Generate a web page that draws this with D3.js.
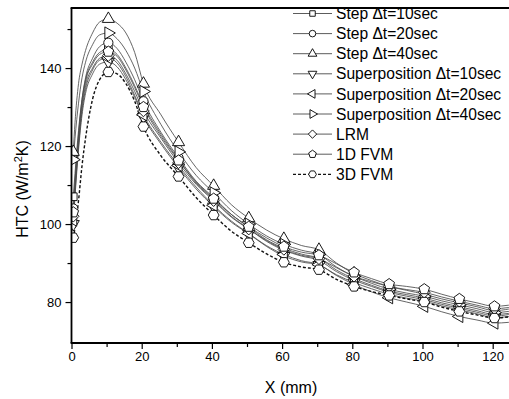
<!DOCTYPE html>
<html>
<head>
<meta charset="utf-8">
<script src="https://d3js.org/d3.v7.min.js"></script>
<style>
body { margin: 0; background: #fff; }
svg { display: block; font-family: "Liberation Sans", Arial, sans-serif; }
</style>
</head>
<body>
<div id="chart"></div>
<script>
// x positions (mm) of the sampled curve points
var xs = [0.5, 1, 2, 3, 4, 6, 8, 10.5, 13, 15.5, 18, 20.5, 25.5, 30.5, 35.5, 40.5, 45.5, 50.5, 55.5, 60.5,
	65.5, 70.5, 75.5, 80.5, 85.5, 90.5, 95.5, 100.5, 105.5, 110.5, 115.5, 120.5, 124.6];
// markers every 10 mm
var markerX = [0.5, 10.5, 20.5, 30.5, 40.5, 50.5, 60.5, 70.5, 80.5, 90.5, 100.5, 110.5, 120.5];

var seriesNames = ["Step \u0394t=10sec", "Step \u0394t=20sec", "Step \u0394t=40sec",
	"Superposition \u0394t=10sec", "Superposition \u0394t=20sec", "Superposition \u0394t=40sec",
	"LRM", "1D FVM", "3D FVM"];

var step10 = [107, 113, 124, 132, 137, 141.5, 144, 144.8, 143.5, 140, 135.5, 130.5, 123, 116.5, 110.5, 106.3, 102, 98.8, 95.6, 93.3,
	91.8, 90.7, 87.8, 85.6, 84, 82.5, 81.5, 80.6, 79.4, 78.4, 77.4, 76.4, 76.8];
var step20 = [104, 111, 123, 132, 137.5, 142.5, 145.5, 146.5, 145, 141.5, 137, 131.5, 123.5, 117, 111, 106.8, 102.5, 99.2, 96, 93.8,
	92.3, 91.2, 88.2, 86, 84.3, 82.8, 81.9, 81, 79.8, 78.8, 77.8, 76.8, 77.1];
var step40 = [118.5, 126, 136, 141, 144.5, 149, 151.8, 152.6, 151.5, 149, 144, 136, 128, 121, 114.5, 109.8, 105, 101.5, 98.5, 96.2,
	94.5, 93.4, 90, 87.3, 85.5, 84, 83, 82, 80.8, 79.8, 78.8, 77.8, 78.2];
var sup10 = [100, 107, 119, 128, 133.5, 138.5, 141, 141.6, 140.3, 137, 132.5, 127.5, 120.5, 114.5, 109, 104.5, 100.5, 97.5, 94.3, 91.8,
	90.3, 89.5, 87, 85, 83.4, 82, 81, 80.2, 79, 78, 77, 76, 76.3];
var sup20 = [101, 108, 120, 129, 134.5, 139.5, 142, 142.6, 141.3, 137.8, 133, 128, 121, 115, 109.5, 104.8, 100.8, 97.6, 94.5, 92.2,
	90.6, 89.6, 86.8, 84.5, 82.6, 81.1, 80, 78.9, 77.5, 76.3, 75.4, 74.6, 74.8];
var sup40 = [116.5, 122, 131, 137.5, 141.5, 146, 148.5, 149, 147.5, 144.5, 140, 134, 125.5, 118.5, 112.5, 108, 103.5, 100, 97, 94.8,
	93.3, 92.2, 89, 86.6, 84.8, 83.3, 82.3, 81.5, 80.3, 79.3, 78.3, 77.3, 77.6];
var lrm = [102, 109, 121, 130, 135.5, 140, 142.5, 143.2, 142, 138.5, 134, 129, 122, 115.7, 110.2, 106, 101.8, 98.7, 95.8, 93.5,
	92, 91.1, 88.8, 86.6, 85.2, 84, 83.2, 82.5, 81.3, 80.2, 79.2, 78.3, 78.6];
var fvm1d = [103, 110, 122, 131, 136.5, 141, 143.5, 144.2, 143, 139.5, 135, 130, 122.5, 116.3, 110.8, 106.5, 102.5, 99.3, 96.5, 94.2,
	92.8, 92, 89.8, 87.6, 86, 84.6, 84, 83.3, 82, 80.8, 79.8, 78.9, 79.2];
var fvm3d = [96.5, 99, 106, 115, 122, 132, 137, 139, 138.5, 136, 131.5, 125, 117.5, 112.2, 106.8, 102.3, 98.2, 95.2, 92.4, 90.2,
	89, 88.3, 85.8, 84, 82.7, 81.7, 80.8, 80, 78.7, 77.6, 76.7, 75.9, 76.2];

var xTicks = [0, 20, 40, 60, 80, 100, 120];
var xMinor = [10, 30, 50, 70, 90, 110];
var yTicks = [80, 100, 120, 140];
var yMinor = [90, 110, 130, 150];

var allValues = [step10, step20, step40, sup10, sup20, sup40, lrm, fvm1d, fvm3d];
var shapes = ["square", "circle", "up", "down", "left", "right", "diamond", "pentagon", "hexagon"];

var width = 509, height = 399;
var svg = d3.select("#chart").append("svg")
	.attr("width", width)
	.attr("height", height);

var x = d3.scaleLinear().domain([0, 130]).range([71.5, 71.5 + 130 * 3.51]);
var y = d3.scaleLinear().domain([69.5, 155.4]).range([343, 8]);

// polygon marker path centred on 0,0
function polygon(n, r, rot) {
	var pts = [];
	for (var i = 0; i < n; i++) {
		var a = rot + i * 2 * Math.PI / n;
		pts.push([r * Math.cos(a), r * Math.sin(a)]);
	}
	return "M" + pts.map(function(p) { return p[0].toFixed(2) + "," + p[1].toFixed(2); }).join("L") + "Z";
}
function markerPath(shape, k) {
	var d = Math.PI / 180;
	switch (shape) {
		case "square": return polygon(4, 5.4 * k, 45 * d);
		case "circle": return "M" + (4.6 * k) + ",0A" + (4.6 * k) + "," + (4.6 * k) + " 0 1,1 " + (-4.6 * k) + ",0A" + (4.6 * k) + "," + (4.6 * k) + " 0 1,1 " + (4.6 * k) + ",0Z";
		case "up": return polygon(3, 7 * k, -90 * d);
		case "down": return polygon(3, 7 * k, 90 * d);
		case "left": return polygon(3, 7 * k, 180 * d);
		case "right": return polygon(3, 7 * k, 0);
		case "diamond": return polygon(4, 5.8 * k, -90 * d);
		case "pentagon": return polygon(5, 5.6 * k, -90 * d);
		case "hexagon": return polygon(6, 5.4 * k, 0);
	}
}

svg.append("defs").append("clipPath").attr("id", "plotClip")
	.append("rect").attr("x", 71.5).attr("y", 8).attr("width", 460).attr("height", 335);

var line = d3.line()
	.x(function(d) { return x(d[0]); })
	.y(function(d) { return y(d[1]); })
	.curve(d3.curveMonotoneX);

var plot = svg.append("g").attr("clip-path", "url(#plotClip)");

allValues.forEach(function(vals, i) {
	var pts = xs.map(function(xv, j) { return [xv, vals[j]]; });
	plot.append("path")
		.datum(pts)
		.attr("d", line)
		.attr("fill", "none")
		.attr("stroke", i == 8 ? "#111" : "#4a4a4a")
		.attr("stroke-width", i == 8 ? 1.4 : 0.85)
		.attr("stroke-dasharray", i == 8 ? "3,2" : null);
});

allValues.forEach(function(vals, i) {
	var pts = xs.map(function(xv, j) { return [xv, vals[j]]; })
		.filter(function(p) { return markerX.indexOf(p[0]) >= 0; });
	plot.selectAll(".m" + i)
		.data(pts)
		.enter().append("path")
		.attr("class", "m" + i)
		.attr("transform", function(d) { return "translate(" + x(d[0]) + "," + y(d[1]) + ")"; })
		.attr("d", markerPath(shapes[i], 1))
		.attr("fill", "#fff")
		.attr("stroke", "#000")
		.attr("stroke-width", 0.9);
});

// axes
svg.append("g").attr("transform", "translate(0,343)")
	.call(d3.axisBottom(x).tickValues(xTicks).tickSize(6).tickPadding(3).tickFormat(d3.format("d")));
svg.append("g").attr("transform", "translate(0,343)")
	.call(d3.axisBottom(x).tickValues(xMinor).tickSize(4).tickFormat(""));
svg.append("g").attr("transform", "translate(71.5,0)")
	.call(d3.axisLeft(y).tickValues(yTicks).tickSize(6).tickPadding(4).tickFormat(d3.format("d")));
svg.append("g").attr("transform", "translate(71.5,0)")
	.call(d3.axisLeft(y).tickValues(yMinor).tickSize(4).tickFormat(""));

svg.selectAll(".domain").remove();
svg.selectAll(".tick line").attr("stroke", "#000").attr("stroke-width", 1.2);
svg.selectAll(".tick text").attr("font-size", 13).attr("fill", "#000")
	.attr("font-family", "Liberation Sans, Arial, sans-serif");

// frame
svg.append("line").attr("x1", 71.5).attr("x2", 71.5).attr("y1", 8).attr("y2", 343)
	.attr("stroke", "#000").attr("stroke-width", 1.8);
svg.append("line").attr("x1", 70.6).attr("x2", width).attr("y1", 343).attr("y2", 343)
	.attr("stroke", "#000").attr("stroke-width", 1.8);
svg.append("line").attr("x1", 70.6).attr("x2", width).attr("y1", 8).attr("y2", 8)
	.attr("stroke", "#000").attr("stroke-width", 1.8);

// axis titles
svg.append("text")
	.attr("x", 291).attr("y", 393)
	.attr("text-anchor", "middle")
	.attr("font-size", 16)
	.text("X (mm)");

var yt = svg.append("text")
	.attr("transform", "translate(28,189) rotate(-90)")
	.attr("text-anchor", "middle")
	.attr("font-size", 16);
yt.append("tspan").text("HTC (W/m");
yt.append("tspan").attr("font-size", 11).attr("dy", -6).text("2");
yt.append("tspan").attr("dy", 6).text("K)");

// legend
var legend = svg.append("g");
seriesNames.forEach(function(name, i) {
	var ly = 13.5 + i * 20.1;
	legend.append("line")
		.attr("x1", 293).attr("x2", 332).attr("y1", ly).attr("y2", ly)
		.attr("stroke", i == 8 ? "#111" : "#4a4a4a")
		.attr("stroke-width", i == 8 ? 1.2 : 0.9)
		.attr("stroke-dasharray", i == 8 ? "3,2" : null);
	legend.append("path")
		.attr("transform", "translate(312.5," + ly + ")")
		.attr("d", markerPath(shapes[i], 0.72))
		.attr("fill", "#fff")
		.attr("stroke", "#000")
		.attr("stroke-width", 0.9);
	legend.append("text")
		.attr("x", 336).attr("y", ly)
		.attr("dy", "0.36em")
		.attr("font-size", 15.6)
		.text(name);
});
</script>
</body>
</html>
